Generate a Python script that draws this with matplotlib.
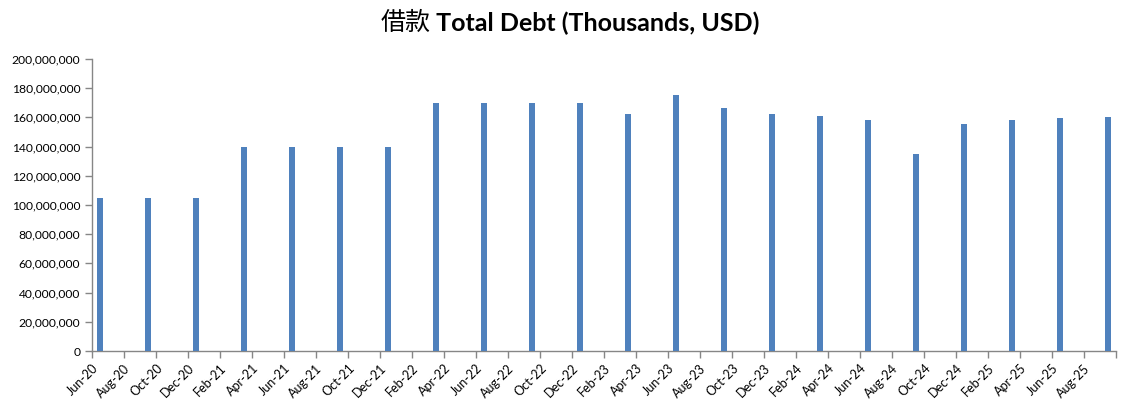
import matplotlib
matplotlib.use("Agg")
import matplotlib.pyplot as plt
from matplotlib.ticker import FuncFormatter, MultipleLocator
from matplotlib.transforms import ScaledTranslation

# Data (thousands USD), quarterly
dates = ["Jun-20", "Sep-20", "Dec-20", "Mar-21", "Jun-21", "Sep-21", "Dec-21",
         "Mar-22", "Jun-22", "Sep-22", "Dec-22", "Mar-23", "Jun-23", "Sep-23",
         "Dec-23", "Mar-24", "Jun-24", "Sep-24", "Dec-24", "Mar-25", "Jun-25", "Sep-25"]
values = [104.8e6, 104.8e6, 104.8e6, 140e6, 140e6, 140e6, 140e6,
          170e6, 170e6, 170e6, 170e6, 162e6, 175e6, 166.5e6,
          162e6, 161e6, 158.5e6, 135e6, 155.5e6, 158.5e6, 159.5e6, 160.3e6]
tick_labels = ["Jun-20", "Aug-20", "Oct-20", "Dec-20", "Feb-21", "Apr-21", "Jun-21",
               "Aug-21", "Oct-21", "Dec-21", "Feb-22", "Apr-22", "Jun-22", "Aug-22",
               "Oct-22", "Dec-22", "Feb-23", "Apr-23", "Jun-23", "Aug-23", "Oct-23",
               "Dec-23", "Feb-24", "Apr-24", "Jun-24", "Aug-24", "Oct-24", "Dec-24",
               "Feb-25", "Apr-25", "Jun-25", "Aug-25", ""]
title_cn = "借款"
title_en = " Total Debt (Thousands, USD)"

months = {"Jan": 1, "Feb": 2, "Mar": 3, "Apr": 4, "May": 5, "Jun": 6, "Jul": 7,
          "Aug": 8, "Sep": 9, "Oct": 10, "Nov": 11, "Dec": 12}

def month_index(s):
    m, y = s.split("-")
    return (2000 + int(y)) * 12 + months[m] - (2020 * 12 + 6)

xpos = [month_index(d) + 0.5 for d in dates]

plt.rcParams['font.family'] = ['Lato', 'Noto Sans CJK SC', 'DejaVu Sans']

fig = plt.figure(figsize=(11.27, 4.07), dpi=100)
ax = fig.add_axes([92/1127, 56/407, (1116-92)/1127, 292/407])

ax.bar(xpos, values, width=0.42, color="#4F81BD", zorder=3)

ax.set_xlim(0, 64)
ax.set_ylim(0, 200e6)
ax.yaxis.set_major_locator(MultipleLocator(20e6))
ax.yaxis.set_major_formatter(FuncFormatter(lambda v, p: f"{int(round(v)):,}"))

ax.set_xticks(list(range(0, 65, 2)))
ax.set_xticklabels(tick_labels, rotation=45, ha="right", rotation_mode="anchor")
offset = ScaledTranslation(6/100, 0, fig.dpi_scale_trans)
for lbl in ax.get_xticklabels():
    lbl.set_transform(lbl.get_transform() + offset)
    lbl.set_fontsize(9)

for s in ["top", "right"]:
    ax.spines[s].set_visible(False)
for s in ["left", "bottom"]:
    ax.spines[s].set_color("#868686")
    ax.spines[s].set_linewidth(1.0)

ax.tick_params(axis="both", direction="out", length=5, color="#868686", width=1,
               labelcolor="#000000")
ax.tick_params(axis="y", labelsize=8.7)
ax.tick_params(axis="x", pad=3)

# Title: Chinese part regular, English part bold, centred as a whole
fs = 18
t1 = fig.text(0, 1 - 23/407, title_cn, ha="left", va="center", fontsize=fs,
              family=['Noto Sans CJK SC', 'DejaVu Sans'])
t2 = fig.text(0, 1 - 23/407, title_en, ha="left", va="center", fontsize=fs,
              fontweight="bold", family=['Lato', 'Noto Sans CJK SC', 'DejaVu Sans'])
fig.canvas.draw()
r = fig.canvas.get_renderer()
w1 = t1.get_window_extent(r).width
w2 = t2.get_window_extent(r).width
W = fig.bbox.width
start = 570 - (w1 + w2) / 2
t1.set_x(start / W)
t2.set_x((start + w1) / W)

fig.savefig("out.png", dpi=100)
